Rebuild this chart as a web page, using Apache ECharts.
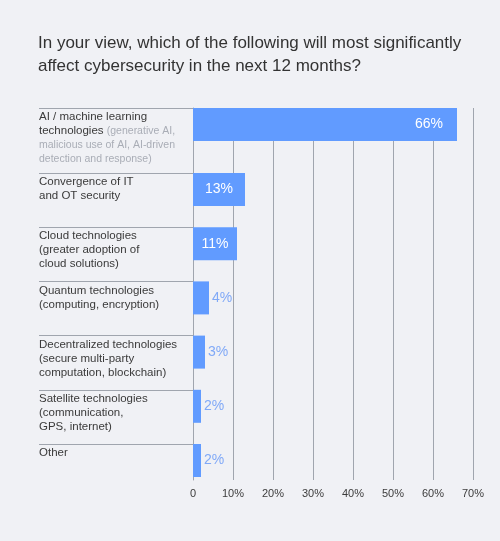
<!DOCTYPE html>
<html>
<head>
    <meta charset="utf-8">
    <title>Cybersecurity outlook</title>
    <script src="https://cdn.jsdelivr.net/npm/echarts@6/dist/echarts.min.js"></script>
    <style>
        html, body { margin: 0; padding: 0; background: #f0f1f5; }
        #chart_div { width: 500px; height: 541px; }
    </style>
</head>
<body>
    <div id="chart_div"></div>

    <script>
        // data
        const categories = [
            'AI / machine learning\ntechnologies {g|(generative AI,}\n{g|malicious use of AI, AI-driven}\n{g|detection and response)}',
            'Convergence of IT\nand OT security',
            'Cloud technologies\n(greater adoption of\ncloud solutions)',
            'Quantum technologies\n(computing, encryption)',
            'Decentralized technologies\n(secure multi-party\ncomputation, blockchain)',
            'Satellite technologies\n(communication,\nGPS, internet)',
            'Other'
        ];
        const values = [66, 13, 11, 4, 3, 2, 2];
        const xTicks = [0, 10, 20, 30, 40, 50, 60, 70];
        const xTickLabels = ['0', '10%', '20%', '30%', '40%', '50%', '60%', '70%'];

        const BAR = '#619bff';
        const LINE = '#a0a5ae';
        const FONT = 'Arial, "Liberation Sans", sans-serif';

        // rows are grouped in three grids: tall first row, regular rows, short last row
        const groups = [
            { from: 0, to: 1, top: 108, height: 65, ticks: true },
            { from: 1, to: 6, top: 173, height: 271, ticks: true },
            { from: 6, to: 7, top: 444, height: 36, ticks: false }
        ];

        function valueLabel(v) {
            if (v >= 50) return { position: 'insideRight', distance: 14, color: '#ffffff' };
            if (v >= 10) return { position: 'inside', color: '#ffffff' };
            return { position: 'right', distance: 3, color: '#80a9f7' };
        }

        const grid = [], xAxis = [], yAxis = [], series = [];
        groups.forEach((g, i) => {
            const cats = categories.slice(g.from, g.to);
            const vals = values.slice(g.from, g.to);
            const band = g.height / cats.length;
            const last = i === groups.length - 1;

            grid.push({ left: 193, right: 27, top: g.top, height: g.height });
            xAxis.push({
                gridIndex: i,
                type: 'value',
                min: 0,
                max: 70,
                interval: 10,
                axisLine: { show: false },
                axisTick: { show: false },
                axisLabel: {
                    show: last,
                    margin: 8,
                    color: '#3c3c3c',
                    fontSize: 11,
                    fontFamily: FONT,
                    formatter: v => xTickLabels[xTicks.indexOf(v)]
                },
                splitLine: { lineStyle: { color: LINE, width: 1 } }
            });
            yAxis.push({
                gridIndex: i,
                type: 'category',
                inverse: true,
                data: cats,
                axisLine: { lineStyle: { color: LINE, width: 1 } },
                axisTick: { show: g.ticks, length: 154, lineStyle: { color: LINE, width: 1 } },
                axisLabel: { show: false }
            });
            series.push({
                type: 'bar',
                xAxisIndex: i,
                yAxisIndex: i,
                barWidth: 33,
                barGap: 0,
                itemStyle: { color: BAR },
                data: vals.map(v => ({ value: v, label: valueLabel(v) })),
                label: {
                    show: true,
                    fontSize: 14,
                    fontFamily: FONT,
                    formatter: '{c}%'
                },
                z: 3
            });
            // transparent filler under each bar, carries the row text
            series.push({
                type: 'bar',
                xAxisIndex: i,
                yAxisIndex: i,
                barWidth: band - 33,
                barGap: 0,
                silent: true,
                itemStyle: { color: 'rgba(0,0,0,0)' },
                data: vals,
                label: {
                    show: true,
                    position: [-154, -31],
                    align: 'left',
                    verticalAlign: 'top',
                    color: '#3a3a3a',
                    fontSize: 11.5,
                    lineHeight: 14,
                    fontFamily: FONT,
                    formatter: p => cats[p.dataIndex],
                    rich: {
                        g: { color: '#a9adb6', fontSize: 10.5, lineHeight: 14, fontFamily: FONT }
                    }
                }
            });
        });

        const myChart = echarts.init(document.getElementById('chart_div'));
        myChart.setOption({
            backgroundColor: '#f0f1f5',
            animation: false,
            title: {
                text: 'In your view, which of the following will most significantly\naffect cybersecurity in the next 12 months?',
                left: 33,
                top: 27,
                textStyle: {
                    color: '#333333',
                    fontSize: 17,
                    fontWeight: 'normal',
                    lineHeight: 23,
                    fontFamily: FONT
                }
            },
            grid: grid,
            xAxis: xAxis,
            yAxis: yAxis,
            series: series
        });
    </script>
</body>
</html>
